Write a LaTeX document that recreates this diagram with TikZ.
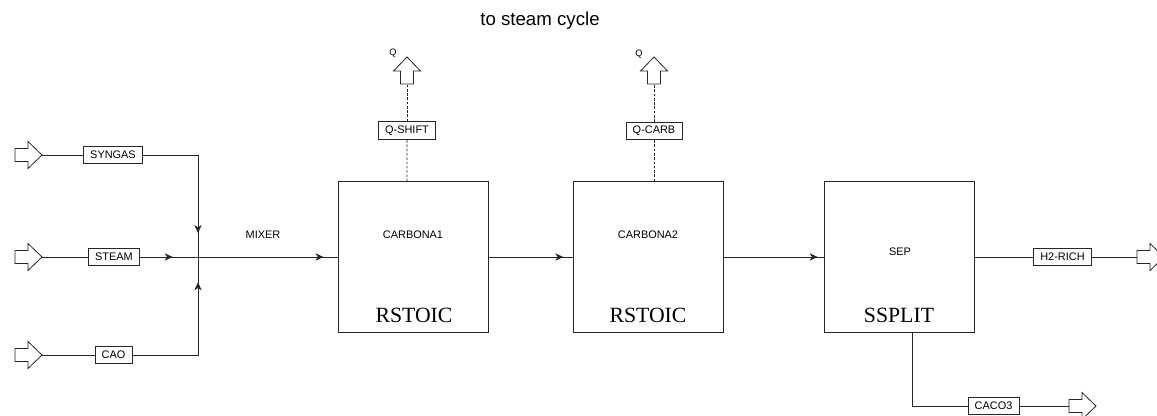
\documentclass[tikz,border=0pt]{standalone}
\usepackage{fontspec}
\setmainfont{Liberation Sans}
\newfontfamily\blockfont{Liberation Serif}
\usetikzlibrary{arrows.meta,decorations.markings}

\begin{document}
\begin{tikzpicture}[x=0.75pt,y=-0.75pt,
  stream/.style={draw=black!85,line width=0.6pt},
  heat/.style={draw=black!85,line width=0.6pt,dash pattern=on 2pt off 1.2pt},
  tag/.style={draw=black!85,line width=0.6pt,fill=white,font=\fontsize{8.2}{9}\selectfont,inner xsep=5pt,inner ysep=0pt,minimum height=13pt},
  unit/.style={draw=black!85,line width=0.6pt,minimum width=112.5pt,minimum height=113pt,inner sep=0pt},
  utype/.style={font=\blockfont\fontsize{16.3}{18}\selectfont,inner sep=0pt},
  uname/.style={font=\fontsize{8.2}{9}\selectfont,inner sep=0pt},
  flowmark/.style={postaction={decorate},decoration={markings,mark=at position #1 with {\arrow{Stealth[length=6pt,width=5.5pt,inset=1.8pt]}}}},
  feed/.pic={\draw[stream,fill=white](0,-6.5)--(13,-6.5)--(13,-13.5)--(27,0)--(13,13.5)--(13,6.5)--(0,6.5)--cycle;
    \coordinate(-tail)at(0,0);\coordinate(-tip)at(27,0);}]
\useasboundingbox(0,0)rectangle(1157,416);
\node[font=\fontsize{14}{16}\selectfont,inner sep=0pt](cycle)at(540,21){to steam cycle};
% feeds
\pic(syngasin)at(15,155){feed};
\pic(steamin)at(15,257){feed};
\pic(caoin)at(15,355){feed};
\node[tag](syngas)at(113,155){SYNGAS};
\node[tag](steam)at(114,257){STEAM};
\node[tag](cao)at(113.5,355){CAO};
\coordinate(mix)at(198,257);
\node[uname](mixer)at(263,235){MIXER};
\draw[stream](syngasin-tip)--(syngas.west);
\draw[stream](steamin-tip)--(steam.west);
\draw[stream](caoin-tip)--(cao.west);
\draw[stream,flowmark=-18pt](syngas.east)-|(mix);
\draw[stream,flowmark=-19pt](steam.east)--(mix);
\draw[stream,flowmark=-19pt](cao.east)-|(mix);
% reactors and splitter
\node[unit](carb1)at(413.5,257){};
\node[uname](carb1name)at(413,235){CARBONA1};
\node[utype](carb1type)at(414,315){RSTOIC};
\node[unit](carb2)at(648,257){};
\node[uname](carb2name)at(648,235){CARBONA2};
\node[utype](carb2type)at(648,315){RSTOIC};
\node[unit](sep)at(899,257){};
\node[uname](sepname)at(900,252){SEP};
\node[utype](septype)at(899,315){SSPLIT};
\draw[stream,flowmark=-11pt](mix)--(carb1.west);
\draw[stream,flowmark=-7pt](carb1.east)--(carb2.west);
\draw[stream,flowmark=-4.5pt](carb2.east)--(sep.west);
% heat duties
\coordinate(carb1top)at([xshift=-4.9pt]carb1.north);
\coordinate(carb2top)at([xshift=4.5pt]carb2.north);
\pic[rotate=90](qshift)at(407,84){feed};
\pic[rotate=90](qcarb)at(654,84){feed};
\node[tag](qshiftbox)at(407,130.5){Q-SHIFT};
\node[tag](qcarbbox)at(654,131){Q-CARB};
\node[font=\fontsize{7}{8}\selectfont,inner sep=0pt](qshiftq)at(393,53){Q};
\node[font=\fontsize{7}{8}\selectfont,inner sep=0pt](qcarbq)at(639,54){Q};
\draw[heat](carb1top)--(qshiftbox.south);
\draw[heat](qshiftbox.north)--(qshift-tail);
\draw[heat](carb2top)--(qcarbbox.south);
\draw[heat](qcarbbox.north)--(qcarb-tail);
% products
\node[tag](h2rich)at(1062.5,257){H2-RICH};
\pic(h2out)at(1137,257){feed};
\draw[stream](sep.east)--(h2rich.west);
\draw[stream](h2rich.east)--(h2out-tail);
\coordinate(sepbot)at([xshift=9.75pt]sep.south);
\node[tag](caco3)at(993.5,406){CACO3};
\pic(caco3out)at(1069,406){feed};
\draw[stream](sepbot)|-(caco3.west);
\draw[stream](caco3.east)--(caco3out-tail);
\end{tikzpicture}
\end{document}
